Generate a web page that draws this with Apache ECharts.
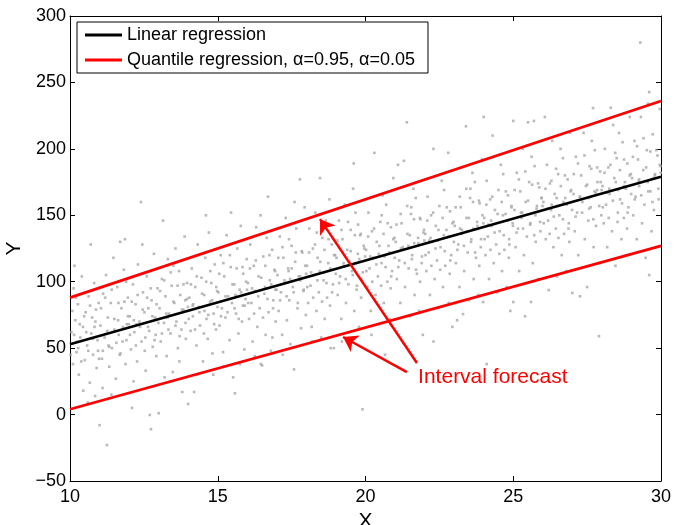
<!DOCTYPE html>
<html>
<head>
<meta charset="utf-8">
<script src="https://cdn.jsdelivr.net/npm/echarts@6/dist/echarts.min.js"></script>
<style>
    html, body {margin: 0; padding: 0; background: #fff;}
    #chart {width: 674px; height: 525px;}
</style>
</head>
<body>
<div id="chart"></div>
<script>
    // fitted lines, read at x = 10 and x = 30
    var lineX = [10, 30];
    var linearY = [53, 179];
    var upperY = [88, 236];
    var lowerY = [4, 127];

    // arrows: [from, to] in data units, and label position
    var arrowTop = [[21.74, 38.8], [18.46, 147.1]];
    var arrowLow = [[21.40, 32.0], [19.24, 58.4]];
    var labelAt = [21.78, 28.3];
    var labelText = 'Interval forecast';

    var legendLinear = 'Linear regression';
    var legendQuant = 'Quantile regression, \u03b1=0.95, \u03b1=0.05';

    var points = [
        [10.05,62],[10.1,38],[10.12,95],[10.18,71],[10.22,47],[10.27,83],[10.3,30],[10.35,58],[10.4,104],[10.44,66],[10.5,41],[10.53,77],[10.58,52],[10.63,89],[10.67,24],[10.7,128],[10.72,61],[10.78,45],[10.82,99],[10.86,70],[10.9,35],[10.93,56],[10.97,84],[10.15,112],[10.45,18],[10.6,9],[10.85,14],[10.25,55],[10.75,73],[10.95,48],
        [11.0,-8],[11.03,67],[11.08,42],[11.12,91],[11.17,58],[11.22,105],[11.25,-23],[11.28,73],[11.33,36],[11.38,84],[11.42,50],[11.47,118],[11.5,64],[11.55,27],[11.6,96],[11.63,71],[11.68,45],[11.7,130],[11.74,80],[11.78,55],[11.82,109],[11.86,132],[11.88,38],[11.92,68],[11.96,88],[11.4,15],[11.1,20],[11.65,60],[11.9,100],[11.3,52],
        [12.02,74],[12.06,49],[12.1,5],[12.13,98],[12.18,62],[12.22,83],[12.27,40],[12.3,113],[12.35,70],[12.4,160],[12.42,55],[12.47,92],[12.52,77],[12.56,33],[12.6,104],[12.64,66],[12.7,-0.3],[12.74,-11],[12.76,86],[12.8,51],[12.84,121],[12.88,73],[12.92,44],[12.96,95],[12.15,25],[12.45,128],[12.65,80],[12.9,60],[12.25,68],[12.55,58],
        [13.0,1],[13.03,80],[13.07,55],[13.11,102],[13.15,146],[13.18,69],[13.23,89],[13.27,44],[13.31,117],[13.35,76],[13.4,61],[13.44,97],[13.48,32],[13.53,84],[13.57,125],[13.6,70],[13.65,50],[13.69,108],[13.73,90],[13.77,64],[13.8,17],[13.84,79],[13.88,134],[13.92,57],[13.96,99],[13.2,28],[13.5,112],[13.7,40],[13.3,73],[13.9,86],
        [14.0,8],[14.04,88],[14.08,63],[14.12,110],[14.16,74],[14.2,17],[14.24,96],[14.28,52],[14.32,128],[14.36,81],[14.4,67],[14.45,103],[14.5,40],[14.54,90],[14.58,118],[14.62,72],[14.66,57],[14.7,137],[14.74,85],[14.78,99],[14.82,46],[14.86,76],[14.9,113],[14.94,64],[14.98,93],[14.3,30],[14.6,150],[14.85,30],[14.15,82],[14.55,78],
        [15.02,92],[15.06,67],[15.1,120],[15.14,80],[15.18,47],[15.22,104],[15.26,73],[15.3,135],[15.35,89],[15.4,56],[15.44,111],[15.48,84],[15.52,28],[15.56,98],[15.58,16],[15.62,76],[15.66,125],[15.7,61],[15.74,94],[15.78,142],[15.82,70],[15.86,106],[15.9,49],[15.94,87],[15.98,117],[15.2,36],[15.45,152],[15.75,38],[15.6,90],[15.85,82],
        [16.02,99],[16.06,72],[16.1,128],[16.14,84],[16.18,55],[16.22,112],[16.26,93],[16.3,141],[16.34,66],[16.38,104],[16.42,80],[16.46,38],[16.5,37],[16.54,119],[16.58,91],[16.62,60],[16.66,133],[16.7,164],[16.72,77],[16.76,101],[16.8,48],[16.84,124],[16.88,86],[16.92,109],[16.96,70],[16.25,44],[16.45,150],[16.85,58],[16.6,96],[16.95,94],
        [17.02,105],[17.06,78],[17.1,134],[17.14,92],[17.18,60],[17.22,118],[17.26,99],[17.3,148],[17.34,71],[17.38,110],[17.42,86],[17.46,53],[17.5,127],[17.54,96],[17.58,34],[17.62,115],[17.66,140],[17.7,80],[17.74,104],[17.78,177],[17.82,65],[17.86,122],[17.9,93],[17.94,156],[17.98,75],[17.2,45],[17.45,102],[17.6,160],[17.8,101],[17.4,108],
        [18.02,112],[18.06,84],[18.1,140],[18.14,97],[18.18,66],[18.22,125],[18.26,105],[18.3,152],[18.34,78],[18.38,118],[18.42,92],[18.46,178],[18.5,58],[18.54,133],[18.58,101],[18.62,72],[18.66,146],[18.7,88],[18.74,114],[18.78,162],[18.82,50],[18.86,128],[18.9,98],[18.93,50],[18.97,120],[18.2,55],[18.45,108],[18.6,107],[18.8,82],[18.35,137],
        [19.02,118],[19.06,90],[19.1,146],[19.14,104],[19.18,72],[19.22,132],[19.26,112],[19.3,158],[19.34,84],[19.38,124],[19.42,98],[19.46,62],[19.5,139],[19.54,108],[19.58,170],[19.6,189],[19.62,78],[19.66,152],[19.7,94],[19.74,121],[19.78,66],[19.82,135],[19.86,102],[19.9,4],[19.94,127],[19.2,55],[19.45,115],[19.65,114],[19.85,88],[19.75,143],
        [20.02,124],[20.06,96],[20.1,152],[20.14,110],[20.18,78],[20.22,138],[20.26,118],[20.3,197],[20.34,90],[20.38,130],[20.42,104],[20.46,68],[20.5,145],[20.54,114],[20.58,165],[20.62,84],[20.66,45],[20.7,158],[20.74,100],[20.78,127],[20.82,72],[20.86,141],[20.9,108],[20.94,178],[20.98,133],[20.2,60],[20.45,121],[20.65,119],[20.85,95],[20.55,150],
        [21.02,130],[21.06,102],[21.1,188],[21.14,116],[21.18,84],[21.22,144],[21.26,124],[21.3,191],[21.34,96],[21.4,220],[21.42,136],[21.46,110],[21.5,74],[21.54,151],[21.58,120],[21.62,170],[21.66,90],[21.7,163],[21.74,106],[21.78,133],[21.82,78],[21.86,147],[21.9,114],[21.94,60],[21.98,139],[21.2,125],[21.45,127],[21.65,129],[21.85,100],[21.55,156],
        [22.02,136],[22.06,108],[22.1,164],[22.14,122],[22.18,90],[22.22,150],[22.26,130],[22.3,200],[22.3,55],[22.34,102],[22.38,142],[22.42,116],[22.46,80],[22.5,157],[22.54,126],[22.58,176],[22.62,96],[22.66,169],[22.7,112],[22.74,139],[22.8,197],[22.82,84],[22.86,153],[22.9,120],[22.94,66],[22.98,145],[22.2,133],[22.45,131],[22.65,135],[22.85,106],
        [23.02,142],[23.06,114],[23.1,71],[23.14,128],[23.18,96],[23.22,156],[23.26,136],[23.3,75.6],[23.34,108],[23.4,217],[23.42,148],[23.46,122],[23.5,86],[23.54,163],[23.58,132],[23.62,182],[23.66,102],[23.7,175],[23.74,118],[23.78,145],[23.82,90],[23.86,159],[23.9,126],[23.94,192],[23.98,84.7],[23.2,140],[23.45,138],[23.65,140],[23.85,112],[23.55,170],
        [24.0,224],[24.02,148],[24.06,120],[24.1,176],[24.1,38],[24.14,134],[24.18,102],[24.22,162],[24.26,142],[24.3,210],[24.34,114],[24.38,154],[24.42,128],[24.46,92],[24.5,169],[24.54,138],[24.58,188],[24.62,108],[24.66,181],[24.7,124],[24.74,151],[24.78,96],[24.82,165],[24.86,132],[24.9,78],[24.94,157],[24.98,144],[24.25,146],[24.65,150],[24.85,118],
        [25.0,221],[25.0,84.7],[25.04,154],[25.08,126],[25.12,182],[25.16,140],[25.2,108],[25.24,168],[25.28,148],[25.32,200],[25.36,120],[25.4,74],[25.42,160],[25.46,134],[25.5,220],[25.54,175],[25.58,144],[25.6,84.7],[25.62,194],[25.66,114],[25.7,221],[25.72,187],[25.76,130],[25.8,157],[25.84,102],[25.88,171],[25.92,138],[25.96,163],[25.3,152],[25.75,150],
        [26.02,160],[26.07,224],[26.1,132],[26.14,188],[26.18,146],[26.2,93.7],[26.24,174],[26.28,154],[26.32,206],[26.36,126],[26.4,166],[26.44,140],[26.48,104],[26.52,181],[26.56,150],[26.6,200],[26.64,120],[26.68,193],[26.72,136],[26.76,163],[26.8,108],[26.84,177],[26.88,144],[26.92,212],[26.96,169],[26.3,158],[26.5,157],[26.7,160],[26.9,130],[26.45,185],
        [27.0,91.5],[27.04,166],[27.08,138],[27.12,194],[27.16,152],[27.2,120],[27.26,89],[27.3,180],[27.34,160],[27.38,212],[27.42,132],[27.46,172],[27.5,96],[27.54,146],[27.58,187],[27.62,156],[27.66,206],[27.7,230.7],[27.72,126],[27.76,199],[27.8,142],[27.84,169],[27.88,114],[27.9,59],[27.94,183],[27.98,150],[27.25,164],[27.55,163],[27.75,168],[27.85,175],
        [28.02,172],[28.06,144],[28.1,200],[28.14,158],[28.18,126],[28.22,186],[28.26,166],[28.3,231],[28.34,138],[28.38,218],[28.42,178],[28.46,112],[28.5,193],[28.54,152],[28.58,212],[28.62,162],[28.66,132],[28.7,205],[28.74,148],[28.78,175],[28.82,120],[28.86,189],[28.9,156],[28.94,224],[28.98,181],[28.25,170],[28.55,169],[28.75,172],[28.85,140],[28.45,197],
        [29.02,178],[29.06,150],[29.1,206],[29.14,164],[29.18,132],[29.22,192],[29.26,172],[29.3,280],[29.32,224],[29.36,144],[29.4,184],[29.44,158],[29.48,118],[29.52,199],[29.56,234],[29.6,242.7],[29.6,105],[29.64,168],[29.68,138],[29.72,211],[29.76,154],[29.8,181],[29.84,126],[29.88,195],[29.92,162],[29.96,230],[29.98,187],[29.25,176],[29.55,175],[29.75,178]
    ];

    // denser core of the cloud, around the fitted line
    var pointsCore = [
        [10.02,45],[10.08,78],[10.14,60],[10.2,88],[10.28,50],[10.33,68],[10.38,40],[10.48,74],[10.55,62],[10.62,48],[10.68,82],[10.77,57],[10.83,66],[10.88,79],[10.98,42],
        [11.05,80],[11.11,48],[11.19,88],[11.26,63],[11.33,51],[11.41,94],[11.5,72],[11.57,54],[11.64,84],[11.71,46],[11.79,66],[11.84,85],[11.91,56],[11.96,74],[11.99,68],
        [12.03,60],[12.09,85],[12.16,71],[12.23,52],[12.29,90],[12.37,66],[12.46,79],[12.53,48],[12.61,88],[12.68,63],[12.73,95],[12.79,74],[12.86,56],[12.93,83],[12.99,69],
        [13.05,93],[13.11,61],[13.19,101],[13.26,76],[13.33,64],[13.41,107],[13.5,85],[13.57,67],[13.64,97],[13.71,59],[13.79,79],[13.84,98],[13.91,69],[13.96,87],[13.99,81],
        [14.02,72],[14.09,98],[14.17,83],[14.23,64],[14.29,104],[14.38,77],[14.47,91],[14.53,61],[14.61,100],[14.68,75],[14.75,108],[14.81,86],[14.88,68],[14.95,96],[14.99,81],
        [15.05,106],[15.11,74],[15.19,114],[15.26,89],[15.33,77],[15.41,120],[15.5,98],[15.57,80],[15.64,110],[15.71,72],[15.79,92],[15.84,111],[15.91,82],[15.96,100],[15.99,94],
        [16.03,84],[16.09,110],[16.16,95],[16.23,76],[16.29,116],[16.37,89],[16.47,103],[16.53,73],[16.61,112],[16.68,87],[16.75,120],[16.81,98],[16.87,80],[16.94,108],[16.99,94],
        [17.05,118],[17.11,86],[17.19,126],[17.26,101],[17.33,89],[17.41,132],[17.5,110],[17.57,92],[17.64,122],[17.71,84],[17.79,104],[17.84,123],[17.91,94],[17.96,112],[17.99,106],
        [18.03,96],[18.09,122],[18.16,107],[18.23,88],[18.29,128],[18.37,101],[18.47,115],[18.53,85],[18.61,124],[18.68,99],[18.75,132],[18.81,110],[18.87,92],[18.94,120],[18.99,106],
        [19.05,131],[19.11,99],[19.19,139],[19.26,114],[19.33,102],[19.41,145],[19.5,123],[19.57,105],[19.64,135],[19.71,97],[19.79,117],[19.84,136],[19.91,107],[19.96,125],[19.99,119],
        [20.03,108],[20.09,134],[20.16,119],[20.23,100],[20.29,140],[20.37,113],[20.47,127],[20.53,97],[20.61,136],[20.68,111],[20.75,144],[20.81,122],[20.87,104],[20.94,132],[20.99,118],
        [21.05,143],[21.11,111],[21.19,151],[21.26,126],[21.33,114],[21.41,157],[21.5,135],[21.57,117],[21.64,147],[21.71,109],[21.79,129],[21.84,148],[21.91,119],[21.96,137],[21.99,131],
        [22.03,120],[22.09,146],[22.16,131],[22.23,112],[22.29,152],[22.37,125],[22.47,139],[22.53,109],[22.61,148],[22.68,123],[22.75,156],[22.81,134],[22.87,116],[22.94,144],[22.99,130],
        [23.05,156],[23.11,124],[23.19,164],[23.26,139],[23.33,127],[23.41,170],[23.5,148],[23.57,130],[23.64,160],[23.71,122],[23.79,142],[23.84,161],[23.91,132],[23.96,150],[23.99,144],
        [24.03,132],[24.09,158],[24.16,143],[24.23,124],[24.29,164],[24.37,137],[24.47,151],[24.53,121],[24.61,160],[24.68,135],[24.75,168],[24.81,146],[24.87,128],[24.94,156],[24.99,142],
        [25.05,169],[25.11,137],[25.19,177],[25.26,152],[25.33,140],[25.41,183],[25.5,161],[25.57,143],[25.64,173],[25.71,135],[25.79,155],[25.84,174],[25.91,145],[25.96,163],[25.99,157],
        [26.03,144],[26.09,170],[26.16,155],[26.23,136],[26.29,176],[26.37,149],[26.47,163],[26.53,133],[26.61,172],[26.68,147],[26.75,180],[26.81,158],[26.87,140],[26.94,168],[26.99,154],
        [27.05,181],[27.11,149],[27.19,189],[27.26,164],[27.33,152],[27.41,195],[27.5,173],[27.57,155],[27.64,185],[27.71,147],[27.79,167],[27.84,186],[27.91,157],[27.96,175],[27.99,169],
        [28.03,156],[28.09,182],[28.16,167],[28.23,148],[28.29,188],[28.37,161],[28.47,175],[28.53,145],[28.61,184],[28.68,159],[28.75,192],[28.81,170],[28.87,152],[28.94,180],[28.99,166],
        [29.05,194],[29.11,162],[29.19,202],[29.26,177],[29.33,165],[29.41,208],[29.5,186],[29.57,168],[29.64,198],[29.71,160],[29.79,180],[29.84,199],[29.91,170],[29.96,188],[29.99,182]
    ];

    var font = 'Liberation Sans, Arial, Helvetica, sans-serif';
    var minus = function (v) { return String(v).replace('-', '\u2212'); };
    var pairs = function (ys) { return lineX.map(function (x, i) { return [x, ys[i]]; }); };

    var boxAxis = {
        axisLine: {show: true, onZero: false, lineStyle: {color: '#000', width: 1}},
        axisTick: {show: true, inside: true, length: 5, lineStyle: {color: '#000'}},
        splitLine: {show: false}
    };

    var chart = echarts.init(document.getElementById('chart'));
    chart.setOption({
        animation: false,
        backgroundColor: '#fff',
        textStyle: {fontFamily: font},
        grid: {left: 70, right: 13, top: 16, bottom: 44, outerBoundsMode: 'none', containLabel: false},
        legend: {
            orient: 'vertical', left: 77, top: 22, padding: [4, 13, 4, 8], itemGap: 7,
            itemWidth: 37, itemHeight: 3, icon: 'rect',
            borderColor: '#000', borderWidth: 1, backgroundColor: '#fff',
            textStyle: {fontSize: 18, color: '#000', fontFamily: font},
            data: [legendLinear, legendQuant]
        },
        xAxis: [
            Object.assign({
                type: 'value', min: 10, max: 30, interval: 5, position: 'bottom',
                name: 'X', nameLocation: 'middle', nameGap: 20,
                nameTextStyle: {fontSize: 21, color: '#000'},
                axisLabel: {fontSize: 18, color: '#000', margin: 7}
            }, boxAxis),
            Object.assign({
                type: 'value', min: 10, max: 30, interval: 5, position: 'top',
                axisLabel: {show: false}
            }, boxAxis)
        ],
        yAxis: [
            Object.assign({
                type: 'value', min: -50, max: 300, interval: 50, position: 'left',
                name: 'Y', nameLocation: 'middle', nameGap: 40,
                nameTextStyle: {fontSize: 21, color: '#000'},
                axisLabel: {fontSize: 18, color: '#000', margin: 4, formatter: minus}
            }, boxAxis),
            Object.assign({
                type: 'value', min: -50, max: 300, interval: 50, position: 'right',
                axisLabel: {show: false}
            }, boxAxis)
        ],
        series: [{
            type: 'scatter', name: 'data', data: points.concat(pointsCore), symbol: 'rect', symbolSize: 2.6,
            itemStyle: {color: '#a8a8a8'}, silent: true, z: 1
        }, {
            type: 'line', name: legendLinear, data: pairs(linearY), symbol: 'none', color: '#000',
            lineStyle: {color: '#000', width: 2.6}, z: 3
        }, {
            type: 'line', name: legendQuant, data: pairs(upperY), symbol: 'none', color: '#ff0000',
            lineStyle: {color: '#ff0000', width: 2.8}, z: 3,
            markLine: {
                silent: true, symbol: ['none', 'arrow'], symbolSize: 14,
                label: {show: false},
                lineStyle: {color: '#ff0000', width: 2.5, type: 'solid'},
                data: [
                    [{coord: arrowTop[0]}, {coord: arrowTop[1]}],
                    [{coord: arrowLow[0]}, {coord: arrowLow[1]}]
                ]
            },
            markPoint: {
                silent: true, symbol: 'circle', symbolSize: 0,
                data: [{
                    coord: labelAt,
                    label: {
                        show: true, position: 'right', distance: 0, formatter: labelText,
                        color: '#ff0000', fontSize: 21, fontFamily: font
                    }
                }]
            }
        }, {
            type: 'line', name: legendQuant, data: pairs(lowerY), symbol: 'none', color: '#ff0000',
            lineStyle: {color: '#ff0000', width: 2.8}, z: 3
        }]
    });
</script>
</body>
</html>
